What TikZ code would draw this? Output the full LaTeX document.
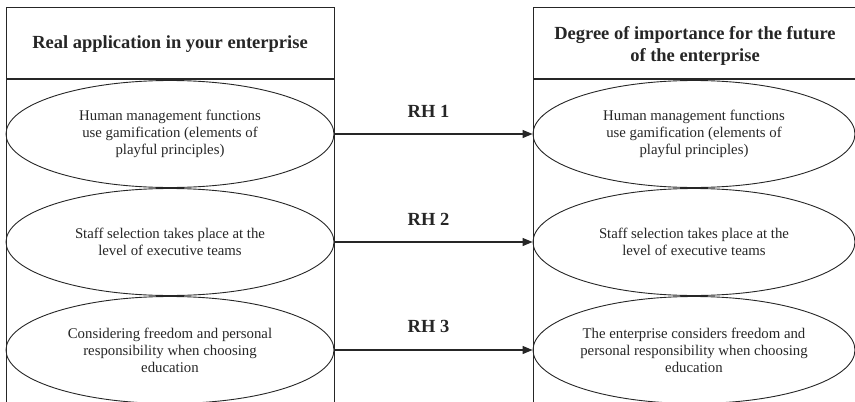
\documentclass[tikz,border=0pt]{standalone}
\usepackage{fontspec}
\setmainfont{Liberation Serif}
\usetikzlibrary{shapes.geometric,arrows.meta}
\begin{document}
\begin{tikzpicture}[x=1pt, y=-1pt, color=black!85, line width=1pt,
    stmt/.style={ellipse, draw, line width=0.9pt, minimum width=328pt, minimum height=107pt, inner sep=0pt, align=center, font=\fontsize{14.8}{17}\selectfont},
    head/.style={align=center, font=\fontsize{18.5}{22}\selectfont\bfseries},
    link/.style={-{Triangle[length=10pt,width=8pt]}, line width=1.2pt}]
    \useasboundingbox (0,0) rectangle (855,402);

    % left column
    \draw (6,402) -- (6,7) -- (334,7) -- (334,402);
    \draw[line width=1.5pt] (6,79) -- (334,79);
    \node[head] (HL) at (170,44) {Real application in your enterprise};

    % right column
    \draw (533,402) -- (533,7) -- (855,7);
    \draw[line width=1.5pt] (533,79) -- (855,79);
    \node[head] (HR) at (695,46) {Degree of importance for the future\\of the enterprise};

    \node[stmt] (L1) at (170,134) {Human management functions\\use gamification (elements of\\playful principles)};
    \node[stmt] (L2) at (170,242) {Staff selection takes place at the\\level of executive teams};
    \node[stmt] (L3) at (170,350) {Considering freedom and personal\\responsibility when choosing\\education};

    \node[stmt, minimum width=322pt] (R1) at (694,134) {Human management functions\\use gamification (elements of\\playful principles)};
    \node[stmt, minimum width=322pt] (R2) at (694,242) {Staff selection takes place at the\\level of executive teams};
    \node[stmt, minimum width=322pt] (R3) at (694,350) {The enterprise considers freedom and\\personal responsibility when choosing\\education};

    \draw[link] (L1.east) -- node[above=13pt, xshift=-5pt, head]{RH 1} (R1.west);
    \draw[link] (L2.east) -- node[above=13pt, xshift=-5pt, head]{RH 2} (R2.west);
    \draw[link] (L3.east) -- node[above=13pt, xshift=-5pt, head]{RH 3} (R3.west); % hypotheses
\end{tikzpicture}
\end{document}
